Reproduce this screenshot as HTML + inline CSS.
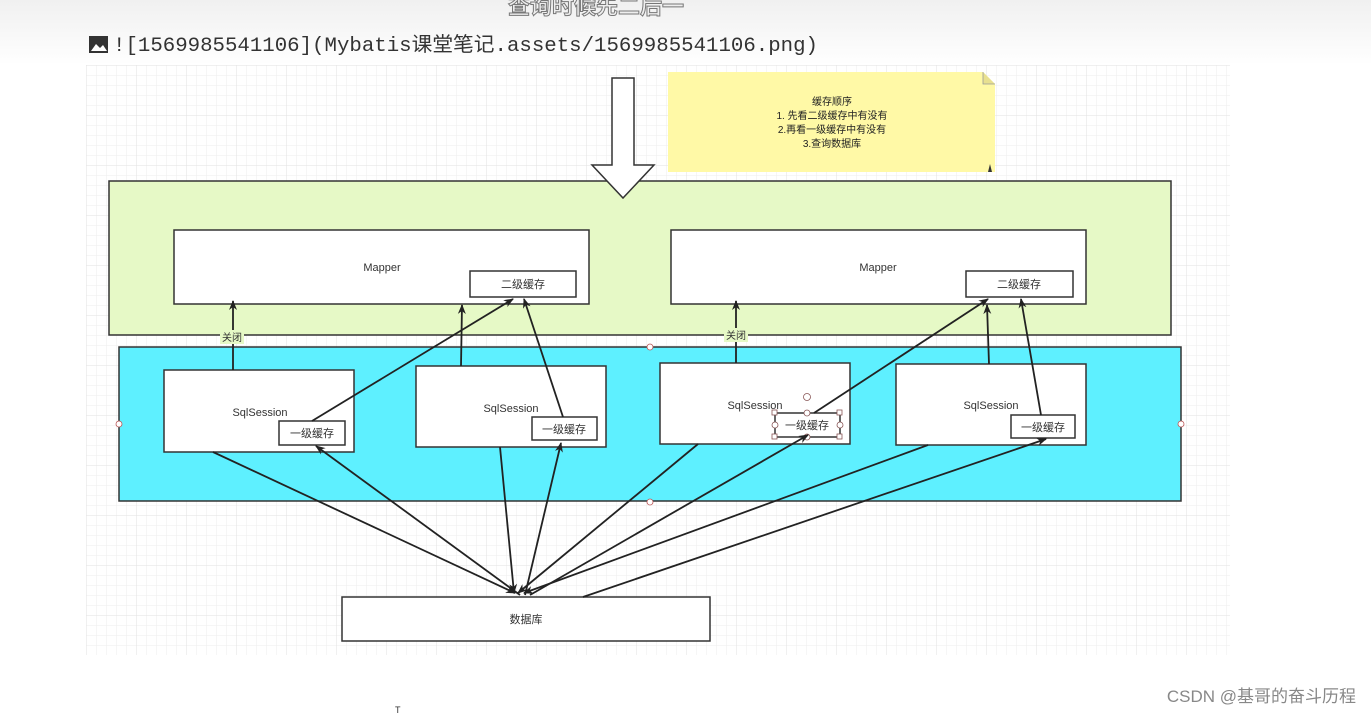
<!DOCTYPE html>
<html><head><meta charset="utf-8"><style>
html,body{margin:0;padding:0;background:#fff;width:1371px;height:714px;overflow:hidden}
svg{display:block}
text{font-family:"Liberation Sans","Noto Sans CJK SC",sans-serif}
text.mono{font-family:"Liberation Mono","Noto Sans CJK SC",monospace}
</style></head><body>
<svg width="1371" height="714" viewBox="0 0 1371 714" xmlns="http://www.w3.org/2000/svg">
<defs>
<pattern id="g" width="10" height="10" patternUnits="userSpaceOnUse" x="86" y="65">
<path d="M10 0H0V10" fill="none" stroke="#eeeeee" stroke-width="1"/></pattern>
<pattern id="G" width="50" height="50" patternUnits="userSpaceOnUse" x="86" y="65">
<path d="M50 0H0V50" fill="none" stroke="#e2e2e2" stroke-width="1"/></pattern>
<marker id="a" markerWidth="10" markerHeight="10" refX="9" refY="5" orient="auto" markerUnits="userSpaceOnUse">
<path d="M0,1 L10,5 L0,9 L3,5 Z" fill="#222"/></marker>
<linearGradient id="hd" x1="0" y1="0" x2="0" y2="1"><stop offset="0" stop-color="#f0f0f0"/><stop offset="1" stop-color="#fff"/></linearGradient>
</defs>
<rect x="0" y="0" width="1371" height="65" fill="url(#hd)"/>
<text x="596" y="14" font-size="22" font-weight="bold" fill="#eee" stroke="#777" stroke-width="1" text-anchor="middle">查询时候先二后一</text>
<rect x="89" y="36" width="19" height="17" fill="#333"/><path d="M91 51l5-7 4 4 3-3 4 6z" fill="#fff"/>
<text class="mono" x="113" y="51" font-size="20" fill="#333" textLength="705" lengthAdjust="spacingAndGlyphs">![1569985541106](Mybatis课堂笔记.assets/1569985541106.png)</text>
<rect x="86" y="65" width="1144" height="590" fill="url(#g)"/>
<rect x="86" y="65" width="1144" height="590" fill="url(#G)"/>
<path d="M668 72H983L995 84V172H668Z" fill="#fff9a6"/>
<path d="M983 72V84H995" fill="#e8e090" stroke="#999" stroke-width="0.8"/>
<path d="M988 172l2-8 2 8z" fill="#333"/>
<g font-size="10" fill="#222" text-anchor="middle">
<text x="832" y="105">缓存顺序</text><text x="832" y="119">1. 先看二级缓存中有没有</text>
<text x="832" y="133">2.再看一级缓存中有没有</text><text x="832" y="147">3.查询数据库</text></g>
<rect x="109" y="181" width="1062" height="154" fill="#e6f9c6" stroke="#333" stroke-width="1.5"/>
<path d="M612 78H634V165H654L623 198L592 165H612Z" fill="#fff" stroke="#333" stroke-width="1.5"/>
<rect x="174" y="230" width="415" height="74" fill="#fff" stroke="#333" stroke-width="1.5"/>
<rect x="671" y="230" width="415" height="74" fill="#fff" stroke="#333" stroke-width="1.5"/>
<rect x="470" y="271" width="106" height="26" fill="#fff" stroke="#333" stroke-width="1.5"/>
<rect x="966" y="271" width="107" height="26" fill="#fff" stroke="#333" stroke-width="1.5"/>
<g font-size="11" fill="#333" text-anchor="middle">
<text x="382" y="271">Mapper</text><text x="878" y="271">Mapper</text>
<text x="523" y="288">二级缓存</text><text x="1019" y="288">二级缓存</text></g>
<rect x="119" y="347" width="1062" height="154" fill="#5ef0ff" stroke="#333" stroke-width="1.5"/>
<g fill="#fff" stroke="#b55" stroke-width="0.8"><circle cx="650" cy="347" r="3"/><circle cx="650" cy="502" r="3"/><circle cx="119" cy="424" r="3"/><circle cx="1181" cy="424" r="3"/></g>
<g fill="#fff" stroke="#333" stroke-width="1.5">
<rect x="164" y="370" width="190" height="82"/><rect x="416" y="366" width="190" height="81"/>
<rect x="660" y="363" width="190" height="81"/><rect x="896" y="364" width="190" height="81"/>
<rect x="279" y="421" width="66" height="24"/><rect x="532" y="417" width="65" height="23"/>
<rect x="775" y="413" width="65" height="24"/><rect x="1011" y="415" width="64" height="23"/></g>
<g fill="#fff" stroke="#855" stroke-width="0.8">
<rect x="772" y="410" width="5" height="5"/><rect x="837" y="410" width="5" height="5"/><rect x="772" y="434" width="5" height="5"/><rect x="837" y="434" width="5" height="5"/>
<circle cx="807" cy="413" r="3"/><circle cx="807" cy="437" r="3"/><circle cx="775" cy="425" r="3"/><circle cx="840" cy="425" r="3"/><circle cx="807" cy="397" r="3.5"/></g>
<g font-size="11" fill="#333" text-anchor="middle">
<text x="260" y="416">SqlSession</text><text x="511" y="412">SqlSession</text>
<text x="755" y="409">SqlSession</text><text x="991" y="409">SqlSession</text>
<text x="312" y="437">一级缓存</text><text x="564" y="433">一级缓存</text>
<text x="807" y="429">一级缓存</text><text x="1043" y="431">一级缓存</text></g>
<rect x="342" y="597" width="368" height="44" fill="#fff" stroke="#333" stroke-width="1.5"/>
<text x="526" y="623" font-size="11" fill="#333" text-anchor="middle">数据库</text>
<g stroke="#222" stroke-width="1.8" fill="none" marker-end="url(#a)">
<path d="M233 370V301"/><path d="M736 363V301"/>
<path d="M312 421L513 299"/><path d="M461 366L462 305"/><path d="M563 417L524 299"/>
<path d="M814 413L988 299"/><path d="M989 364L987 305"/><path d="M1041 415L1021 299"/>
<path d="M213 452L515 593"/><path d="M520 595L316 446"/><path d="M500 447L514 593"/>
<path d="M525 595L561 443"/><path d="M698 444L518 593"/><path d="M530 595L808 435"/>
<path d="M928 445L524 593"/><path d="M583 597L1046 439"/></g>
<rect x="220" y="330" width="24" height="14" fill="#e6f9c6"/><text x="232" y="341" font-size="10" fill="#333" text-anchor="middle">关闭</text>
<rect x="724" y="328" width="24" height="14" fill="#e6f9c6"/><text x="736" y="339" font-size="10" fill="#333" text-anchor="middle">关闭</text>
<text x="1356" y="702" font-size="17" fill="#888" text-anchor="end">CSDN @基哥的奋斗历程</text>
<text x="395" y="713" font-size="9" fill="#333">T</text>
</svg>
</body></html>
